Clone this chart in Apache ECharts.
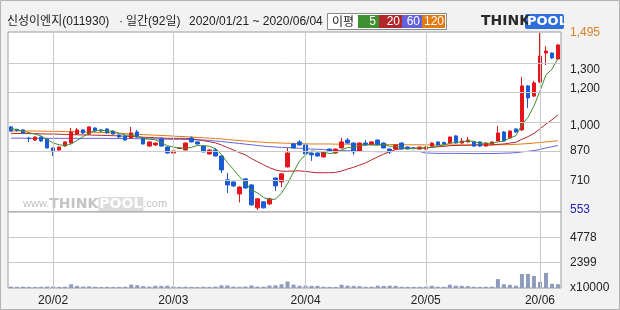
<!DOCTYPE html>
<html><head><meta charset="utf-8">
<script src="https://cdn.jsdelivr.net/npm/echarts@6/dist/echarts.min.js"></script>
<style>html,body{margin:0;padding:0;background:#f2f2f2;}#c{width:620px;height:310px;}</style>
</head><body><div id="c"></div>
<script>
const dates = [
"2020/01/21","2020/01/22","2020/01/23","2020/01/28","2020/01/29","2020/01/30","2020/01/31",
"2020/02/03","2020/02/04","2020/02/05","2020/02/06","2020/02/07","2020/02/10","2020/02/11","2020/02/12","2020/02/13","2020/02/14","2020/02/17","2020/02/18","2020/02/19","2020/02/20","2020/02/21","2020/02/24","2020/02/25","2020/02/26","2020/02/27","2020/02/28",
"2020/03/02","2020/03/03","2020/03/04","2020/03/05","2020/03/06","2020/03/09","2020/03/10","2020/03/11","2020/03/12","2020/03/13","2020/03/16","2020/03/17","2020/03/18","2020/03/19","2020/03/20","2020/03/23","2020/03/24","2020/03/25","2020/03/26","2020/03/27","2020/03/30","2020/03/31",
"2020/04/01","2020/04/02","2020/04/03","2020/04/06","2020/04/07","2020/04/08","2020/04/09","2020/04/10","2020/04/13","2020/04/14","2020/04/16","2020/04/17","2020/04/20","2020/04/21","2020/04/22","2020/04/23","2020/04/24","2020/04/27","2020/04/28","2020/04/29",
"2020/05/04","2020/05/06","2020/05/07","2020/05/08","2020/05/11","2020/05/12","2020/05/13","2020/05/14","2020/05/15","2020/05/18","2020/05/19","2020/05/20","2020/05/21","2020/05/22","2020/05/25","2020/05/26","2020/05/27","2020/05/28","2020/05/29",
"2020/06/01","2020/06/02","2020/06/03","2020/06/04"];

const openP = [995,982,979,935,925,941,931,883,872,893, 909,957,979,957,989,979,984,973,952,947, 936,968,936,893,899,931,888,856,880,872, 936,915,893,851,872,840,713,702,638,718, 686,564,596,585,723,702,782,904,915,899, 856,856,835,877,856,883,925,909,867,909, 901,925,909,877,877,909,888,883,877,877, 893,915,912,909,947,909,915,915,915,893, 904,920,968,936,984,979,1213,1159,1234,1388, 1388,1356];
const closeP = [973,976,963,933,941,920,883,867,888,915, 968,979,963,995,973,973,963,957,941,925, 963,941,904,915,909,893,856,867,883,909, 915,904,862,872,840,766,686,681,675,670, 580,612,564,612,681,745,856,883,899,851, 846,840,862,864,877,915,909,862,909,899, 915,901,883,862,899,877,877,880,888,888, 909,899,904,941,909,920,925,893,893,909, 915,963,920,973,968,1213,1149,1229,1372,1399, 1362,1431];
const lowP = [968,970,957,914,920,915,880,840,868,890, 905,952,957,952,968,968,960,955,938,922, 931,938,901,890,893,890,853,846,878,870, 912,901,859,846,837,750,643,675,593,665, 574,553,561,580,654,675,779,880,896,819, 814,837,832,862,853,880,906,846,864,896, 899,899,880,851,875,875,875,877,875,872, 890,896,901,906,906,906,912,888,890,890, 901,917,917,931,963,973,1096,1154,1229,1324, 1356,1351];
const highP = [1000,984,982,942,944,944,934,885,890,918, 989,989,982,998,992,982,987,976,955,950, 995,979,939,917,912,941,890,869,888,912, 944,917,896,875,883,843,750,705,678,723, 690,615,599,617,726,748,883,909,925,904, 859,859,864,880,880,936,936,912,912,925, 917,928,912,880,901,912,890,886,890,890, 912,917,917,944,950,936,941,917,917,912, 917,1000,973,976,987,1261,1218,1240,1495,1425, 1391,1436];
const ma5 = [987,980,973,964,957,947,928,909,900,895, 904,923,943,964,976,977,973,972,961,952, 950,945,935,930,926,912,895,888,882,882, 886,896,895,892,879,849,805,769,730,696, 658,644,620,608,610,643,692,755,813,847, 867,864,860,853,858,872,885,885,894,899, 899,897,901,892,892,884,880,879,884,882, 888,893,898,908,912,915,920,918,908,908, 907,915,920,936,948,1007,1045,1106,1186,1272, 1302,1359];
const ma20 = [961,960,960,959,959,958,957,957,956,955, 954,953,952,952,951,950,949,948,947,945, 944,943,940,939,937,936,934,934,934,934, 931,927,922,916,910,899,885,872,858,846, 826,810,793,778,766,759,759,760,761,758, 754,751,751,751,753,760,771,780,792,803, 820,835,850,863,874,880,882,881,881,883, 886,889,891,895,896,897,897,899,898,899, 899,902,904,909,913,929,943,960,985,1010, 1033,1059];
const ma60 = [935,935,935,934,934,934,934,934,934,934, 934,934,934,934,934,934,934,933,933,933, 933,932,932,931,931,930,930,929,929,928, 927,926,925,923,920,917,914,910,907,903, 900,896,893,890,888,886,885,883,881,879, 877,876,874,872,871,869,868,867,866,864, 864,863,863,863,864,864,864,865,864,856, 855,854,854,854,854,854,853,853,853,853, 853,854,855,856,858,862,865,869,875,883, 889,896];
const ma120 = [974,974,973,973,973,972,972,971,971,970, 969,969,968,967,966,965,964,962,961,959, 957,956,954,952,951,949,948,946,944,943, 941,939,937,935,933,931,928,925,922,920, 917,915,913,911,910,909,908,907,906,905, 904,904,904,904,903,903,903,903,903,902, 902,902,901,901,901,900,900,900,900,899, 899,899,899,899,899,899,899,899,899,899, 899,900,900,901,902,904,906,909,912,915, 918,921];
const volume = [130,110,120,110,100,110,130,140,110,120, 350,200,130,150,110,100,110,100,110,120, 320,260,180,130,210,200,220,130,110,120, 110,100,120,110,130,250,250,130,110,140, 240,130,120,230,250,350,610,320,210,230, 200,200,120,110,100,310,220,200,180,110, 120,220,200,220,200,120,110,100,110,120, 210,120,110,310,220,200,180,120,110,120, 130,840,350,300,220,1320,1320,1130,580,1420, 390,350];

const priceTickLabels = [553, 710, 870, 1000, 1200, 1300, 1495];
const priceGridValues = [713, 867, 1020, 1179, 1333];
const volTickLabels = [0, 2399, 4778];
const volGridValues = [2399, 4778];
const maNames = ['5', '20', '60', '120'];
const maColors = ['#3d8f2f', '#b3262a', '#6262de', '#e07b12'];
const header = { name: '신성이엔지(011930)', dot: '·', period: '일간(92일)', range: '2020/01/21 ~ 2020/06/04' };

const candles = dates.map((d, i) => [openP[i], closeP[i], lowP[i], highP[i]]);
const isMonthStart = (i) => i > 0 && dates[i].slice(5, 7) !== dates[i - 1].slice(5, 7);
const monthStartDates = dates.filter((d, i) => isMonthStart(i));
const fmt = (v) => String(v).replace(/\B(?=(\d{3})+(?!\d))/g, ',');
const pMax = Math.max(...priceTickLabels), pMin = Math.min(...priceTickLabels);

const chart = echarts.init(document.getElementById('c'), null, { renderer: 'canvas' });
const lblFont = 'Liberation Sans, Arial, sans-serif';
const cjkFont = 'Noto Sans CJK KR';
const gridColor = '#c9c9c9';

// grid lines as markLines on visible series (drawn below candles / lines of higher z)
const gridLines = (values) => ({
  silent: true, symbol: ['none', 'none'], label: { show: false }, emphasis: { disabled: true },
  animation: false,
  lineStyle: { color: gridColor, type: 'solid', width: 1, opacity: 1 },
  data: values.map(v => ({ yAxis: v, lineStyle: { color: gridColor, type: 'solid', width: 1 } }))
    .concat(monthStartDates.map(d => ({ xAxis: d, lineStyle: { color: gridColor, type: 'solid', width: 1 } })))
});

const option = {
  animation: false,
  backgroundColor: '#f2f2f2',
  grid: [
    { left: 8, right: 59, top: 32, height: 180, show: true, backgroundColor: '#fff', borderColor: '#9c9c9c', borderWidth: 1 },
    { left: 8, right: 59, top: 212, height: 76, show: true, backgroundColor: '#fff', borderColor: '#9c9c9c', borderWidth: 1 }
  ],
  xAxis: [
    { type: 'category', gridIndex: 0, data: dates, boundaryGap: true,
      axisLine: { show: false }, axisTick: { show: false }, axisLabel: { show: false }, splitLine: { show: false } },
    { type: 'category', gridIndex: 1, data: dates, boundaryGap: true,
      axisLine: { show: false }, axisTick: { show: false }, splitLine: { show: false },
      axisLabel: { show: true, interval: (i) => isMonthStart(i), margin: 7, fontSize: 12, color: '#222', fontFamily: lblFont,
        formatter: (v) => v.slice(2, 4) + '/' + v.slice(5, 7) } }
  ],
  yAxis: [
    { type: 'value', gridIndex: 0, position: 'right', min: 542, max: 1500,
      axisLine: { show: false }, axisTick: { show: false }, splitLine: { show: false },
      axisLabel: { customValues: priceTickLabels, margin: 9, fontSize: 12, fontFamily: lblFont, color: '#222',
        formatter: (v) => v === pMax ? '{o|' + fmt(v) + '}' : (v === pMin ? '{b|' + fmt(v) + '}' : fmt(v)),
        rich: { o: { color: '#d9802a', fontSize: 12, fontFamily: lblFont }, b: { color: '#2323b4', fontSize: 12, fontFamily: lblFont } } } },
    { type: 'value', gridIndex: 1, position: 'right', min: 0, max: 7150,
      axisLine: { show: false }, axisTick: { show: false }, splitLine: { show: false },
      axisLabel: { customValues: volTickLabels, margin: 9, fontSize: 12, fontFamily: lblFont, color: '#222',
        formatter: (v) => v === 0 ? 'x10000' : String(v) } }
  ],
  series: [
    { type: 'line', name: 'MA120', xAxisIndex: 0, yAxisIndex: 0, data: ma120, symbol: 'none', lineStyle: { color: maColors[3], width: 1 }, z: 2,
      markLine: gridLines(priceGridValues) },
    { type: 'line', name: 'MA60', xAxisIndex: 0, yAxisIndex: 0, data: ma60, symbol: 'none', lineStyle: { color: maColors[2], width: 1 }, z: 2 },
    { type: 'line', name: 'MA20', xAxisIndex: 0, yAxisIndex: 0, data: ma20, symbol: 'none', lineStyle: { color: maColors[1], width: 1 }, z: 2 },
    { type: 'candlestick', xAxisIndex: 0, yAxisIndex: 0, data: candles, barWidth: 4, z: 3,
      itemStyle: { color: '#e4161d', color0: '#1b5bd5', borderColor: '#e4161d', borderColor0: '#1b5bd5', borderWidth: 1 } },
    { type: 'line', name: 'MA5', xAxisIndex: 0, yAxisIndex: 0, data: ma5, symbol: 'none', lineStyle: { color: maColors[0], width: 1 }, z: 4 },
    { type: 'bar', xAxisIndex: 1, yAxisIndex: 1, data: volume, barWidth: 4, itemStyle: { color: '#8e9bbb' }, z: 3,
      markLine: gridLines(volGridValues) }
  ],
  graphic: [
    { type: 'rect', shape: { x: 0.5, y: 0.5, width: 619, height: 309 }, style: { fill: 'none', stroke: '#b4b4b4', lineWidth: 1 }, z: 100, silent: true },
    { type: 'text', x: 7, y: 22, style: { text: header.name, fontFamily: lblFont + ', ' + cjkFont, fontSize: 12, fill: '#222', textVerticalAlign: 'middle' } },
    { type: 'text', x: 119, y: 22, style: { text: header.dot, fontFamily: lblFont, fontSize: 12, fill: '#222', textVerticalAlign: 'middle' } },
    { type: 'text', x: 126, y: 22, style: { text: header.period, fontFamily: lblFont + ', ' + cjkFont, fontSize: 12, fill: '#222', textVerticalAlign: 'middle' } },
    { type: 'text', x: 189, y: 22, style: { text: header.range, fontFamily: lblFont, fontSize: 12, fill: '#222', textVerticalAlign: 'middle' } },
    { type: 'rect', shape: { x: 327.5, y: 13.5, width: 119, height: 16 }, style: { fill: '#fff', stroke: '#8a8a8a' } },
    { type: 'text', x: 332, y: 21.5, style: { text: '이평', fontFamily: cjkFont, fontSize: 12, fill: '#222', textVerticalAlign: 'middle' } },
    { type: 'rect', shape: { x: 358, y: 15, width: 21, height: 13 }, style: { fill: maColors[0] } },
    { type: 'rect', shape: { x: 379, y: 15, width: 23, height: 13 }, style: { fill: maColors[1] } },
    { type: 'rect', shape: { x: 402, y: 15, width: 20, height: 13 }, style: { fill: maColors[2] } },
    { type: 'rect', shape: { x: 422, y: 15, width: 23, height: 13 }, style: { fill: maColors[3] } },
    { type: 'text', x: 376, y: 21.5, style: { text: maNames[0], fill: '#fff', fontSize: 12, fontFamily: lblFont, textAlign: 'right', textVerticalAlign: 'middle' } },
    { type: 'text', x: 400, y: 21.5, style: { text: maNames[1], fill: '#fff', fontSize: 12, fontFamily: lblFont, textAlign: 'right', textVerticalAlign: 'middle' } },
    { type: 'text', x: 420, y: 21.5, style: { text: maNames[2], fill: '#fff', fontSize: 12, fontFamily: lblFont, textAlign: 'right', textVerticalAlign: 'middle' } },
    { type: 'text', x: 444, y: 21.5, style: { text: maNames[3], fill: '#fff', fontSize: 12, fontFamily: lblFont, textAlign: 'right', textVerticalAlign: 'middle' } },
    { type: 'rect', shape: { x: 525, y: 14, width: 39, height: 15, r: 2 }, style: { fill: '#2f6fdc' } },
    { type: 'text', x: 481, y: 21.5, style: { text: 'THINK', fill: '#2a2a2a', fontSize: 14, fontWeight: 'bold', fontFamily: 'DejaVu Sans', textVerticalAlign: 'middle' } },
    { type: 'text', x: 527, y: 21.5, style: { text: 'POOL', fill: '#fff', fontSize: 13, fontWeight: 'bold', fontFamily: 'DejaVu Sans', textVerticalAlign: 'middle' } },
    { type: 'text', x: 23, y: 204, z: 0, style: {
        text: '{a|www.}{b|THINK}{c|POOL}{a|.com}', textVerticalAlign: 'middle',
        rich: { a: { fontSize: 11, fill: '#c2c2c2', fontFamily: lblFont },
                b: { fontSize: 14, fontWeight: 'bold', fill: '#c4c4c4', fontFamily: 'DejaVu Sans' },
                c: { fontSize: 14, fontWeight: 'bold', fill: '#fff', backgroundColor: '#dcdcdc', fontFamily: 'DejaVu Sans', padding: [0, 1] } } } }
  ]
};
chart.setOption(option);
</script></body></html>
